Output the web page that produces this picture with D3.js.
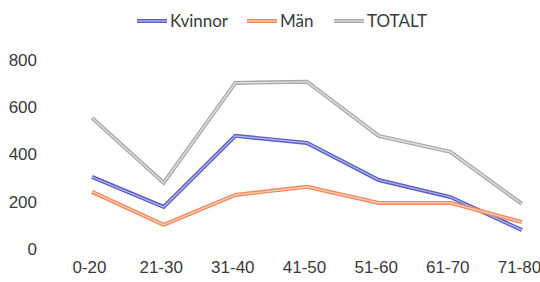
<!DOCTYPE html>
<html>
<head>
<meta charset="utf-8">
<script src="https://cdn.jsdelivr.net/npm/d3@7"></script>
<style>
  body { margin: 0; background: #fff; }
  svg { display: block; font-family: Lato, "Open Sans", sans-serif; }
</style>
</head>
<body>
<div id="chart"></div>
<script>
// age groups on the x axis
const ageGroups = ['0-20', '21-30', '31-40', '41-50', '51-60', '61-70', '71-80'];
const kvinnor = [305, 178, 479, 449, 292, 220, 80];
const man = [242, 102, 229, 263, 195, 195, 114];
const totalt = [555, 280, 703, 708, 479, 411, 191];
const yTicks = [0, 200, 400, 600, 800];

const series = [
  { name: 'Kvinnor', values: kvinnor, color: '#5b5fc7', inner: '#b9bbec' },
  { name: 'Män', values: man, color: '#f08a5d', inner: '#fbd2bf' },
  { name: 'TOTALT', values: totalt, color: '#a9a9a9', inner: '#e6e6e6' }
];

const width = 540, height = 282;

const svg = d3.select('#chart').append('svg')
  .attr('width', width)
  .attr('height', height);

const x = d3.scalePoint()
  .domain(ageGroups)
  .range([92, 522]);

const y = d3.scaleLinear()
  .domain([0, 800])
  .range([249, 60]);

// y axis, labels only
const yAxis = svg.append('g')
  .attr('transform', 'translate(46,0)')
  .call(d3.axisLeft(y).tickValues(yTicks).tickSize(0).tickPadding(9));
yAxis.select('.domain').remove();
yAxis.selectAll('text')
  .attr('font-size', 17)
  .attr('fill', '#3a3a3a');

// x axis, labels only
const xAxis = svg.append('g')
  .attr('transform', 'translate(0,261)')
  .call(d3.axisBottom(x).tickSize(0).tickPadding(0));
xAxis.select('.domain').remove();
xAxis.selectAll('text')
  .attr('font-size', 17)
  .attr('fill', '#3a3a3a')
  .attr('dx', '-3');

const line = d3.line()
  .x((d, i) => x(ageGroups[i]))
  .y(d => y(d));

// double lines: wide coloured stroke with a pale core
series.forEach(s => {
  svg.append('path')
    .datum(s.values)
    .attr('fill', 'none')
    .attr('stroke', s.color)
    .attr('stroke-width', 4)
    .attr('d', line);
  svg.append('path')
    .datum(s.values)
    .attr('fill', 'none')
    .attr('stroke', s.inner)
    .attr('stroke-width', 1.2)
    .attr('d', line);
});

// legend
const legendX = [137, 247, 334];
const legend = svg.append('g');
series.forEach((s, i) => {
  const g = legend.append('g').attr('transform', `translate(${legendX[i]},21)`);
  g.append('line')
    .attr('x1', 0).attr('x2', 30)
    .attr('stroke', s.color)
    .attr('stroke-width', 4);
  g.append('line')
    .attr('x1', 0).attr('x2', 30)
    .attr('stroke', s.inner)
    .attr('stroke-width', 1.2);
  g.append('text')
    .attr('x', 33)
    .attr('dy', '0.35em')
    .attr('font-size', 17)
    .attr('fill', '#3a3a3a')
    .text(s.name);
});
</script>
</body>
</html>
